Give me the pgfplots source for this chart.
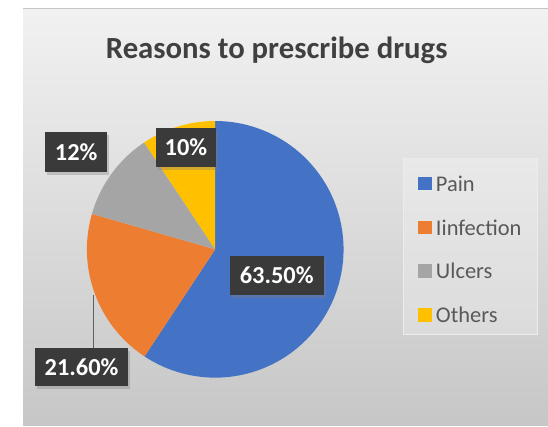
\documentclass[border=0pt]{standalone}
\usepackage{pgfplots}
\pgfplotsset{compat=1.18}
\usepackage{pgfplotstable}
\usepackage{fontspec}
\setmainfont{Carlito}
\usetikzlibrary{shadows}
\definecolor{cPain}{HTML}{4472C4}
\definecolor{cInf}{HTML}{ED7D31}
\definecolor{cUlc}{HTML}{A5A5A5}
\definecolor{cOth}{HTML}{FFC000}
\definecolor{labbg}{HTML}{3A3A3A}
\definecolor{titlec}{HTML}{404040}
\definecolor{legc}{HTML}{595959}
\definecolor{bgtop}{HTML}{F1F1F1}
\definecolor{bgbot}{HTML}{C7C7C7}
\pgfplotstableread{
label value
Pain 63.5
Iinfection 21.6
Ulcers 12
Others 10
}\piedata
\begin{document}
\pgfplotstablegetelem{0}{value}\of\piedata\let\vA\pgfplotsretval
\pgfplotstablegetelem{1}{value}\of\piedata\let\vB\pgfplotsretval
\pgfplotstablegetelem{2}{value}\of\piedata\let\vC\pgfplotsretval
\pgfplotstablegetelem{3}{value}\of\piedata\let\vD\pgfplotsretval
\pgfmathsetmacro{\tot}{\vA+\vB+\vC+\vD}
\pgfmathsetmacro{\aA}{\vA/\tot*360}
\pgfmathsetmacro{\aB}{\aA+\vB/\tot*360}
\pgfmathsetmacro{\aC}{\aB+\vC/\tot*360}
\def\cx{207}\def\cy{255.5}\def\r{131.5}
\tikzset{lab/.style={fill=labbg, text=white, font=\bfseries\fontsize{25}{28}\selectfont, inner sep=0pt, drop shadow={opacity=0.35, shadow xshift=2pt, shadow yshift=-3pt}},
  legt/.style={anchor=west, inner sep=0pt, text=legc, font=\fontsize{23}{26}\selectfont}}
\begin{tikzpicture}
% background (plain page coordinates, 1pt = 1px), stepped vertical gradient
\fill[white] (0,0) rectangle (548pt,437pt);
\foreach \i in {0,...,42}{
  \pgfmathtruncatemacro{\p}{100*\i/42}
  \fill[bgtop!\p!bgbot] (10pt,\i*10pt) rectangle (548pt,{min(429,\i*10+10.6)*1pt});
}
\draw[gray!45, line width=1pt] (10pt,428.5pt) -- (548pt,428.5pt);
\begin{axis}[
  at={(0,0)}, anchor=south west,
  width=548pt, height=437pt, scale only axis,
  xmin=0, xmax=548, ymin=0, ymax=437, y dir=reverse,
  hide axis, clip=false,
]
% title
\node[font=\bfseries\fontsize{31.5}{36}\selectfont, text=titlec] at (axis cs:270,52) {Reasons to prescribe drugs};
% pie
\addplot[fill=cPain, draw=none, domain=0:\aA, samples=90, variable=\t]
  ({\cx+\r*sin(\t)},{\cy-\r*cos(\t)}) -- (axis cs:\cx,\cy) -- cycle;
\addplot[fill=cInf, draw=none, domain=\aA:\aB, samples=40, variable=\t]
  ({\cx+\r*sin(\t)},{\cy-\r*cos(\t)}) -- (axis cs:\cx,\cy) -- cycle;
\addplot[fill=cUlc, draw=none, domain=\aB:\aC, samples=30, variable=\t]
  ({\cx+\r*sin(\t)},{\cy-\r*cos(\t)}) -- (axis cs:\cx,\cy) -- cycle;
\addplot[fill=cOth, draw=none, domain=\aC:360, samples=30, variable=\t]
  ({\cx+\r*sin(\t)},{\cy-\r*cos(\t)}) -- (axis cs:\cx,\cy) -- cycle;
% leader line
\draw[gray!75!black, line width=1pt] (axis cs:82,302) -- (axis cs:82,357);
% labels
\node[lab, minimum width=96pt, minimum height=40pt] at (axis cs:270,282) {63.50\%};
\node[lab, minimum width=96pt, minimum height=39pt] at (axis cs:70,376.5) {21.60\%};
\node[lab, minimum width=63pt, minimum height=41pt] at (axis cs:64.5,155.5) {12\%};
\node[lab, minimum width=62pt, minimum height=40pt] at (axis cs:177,151) {10\%};
% legend
\fill[white, opacity=0.25] (axis cs:400,162) rectangle (axis cs:537,343);
\draw[white!85!gray, line width=0.8pt] (axis cs:400,162) rectangle (axis cs:537,343);
\fill[cPain] (axis cs:415,181) rectangle (axis cs:429,195);
\node[legt] at (axis cs:433,188) {Pain};
\fill[cInf] (axis cs:415,226) rectangle (axis cs:429,240);
\node[legt] at (axis cs:433,233) {Iinfection};
\fill[cUlc] (axis cs:415,271) rectangle (axis cs:429,285);
\node[legt] at (axis cs:433,278) {Ulcers};
\fill[cOth] (axis cs:415,316) rectangle (axis cs:429,330);
\node[legt] at (axis cs:433,323) {Others};
\end{axis}
\pgfresetboundingbox
\path (0,0) rectangle (548pt,437pt);
\end{tikzpicture}
\end{document}
